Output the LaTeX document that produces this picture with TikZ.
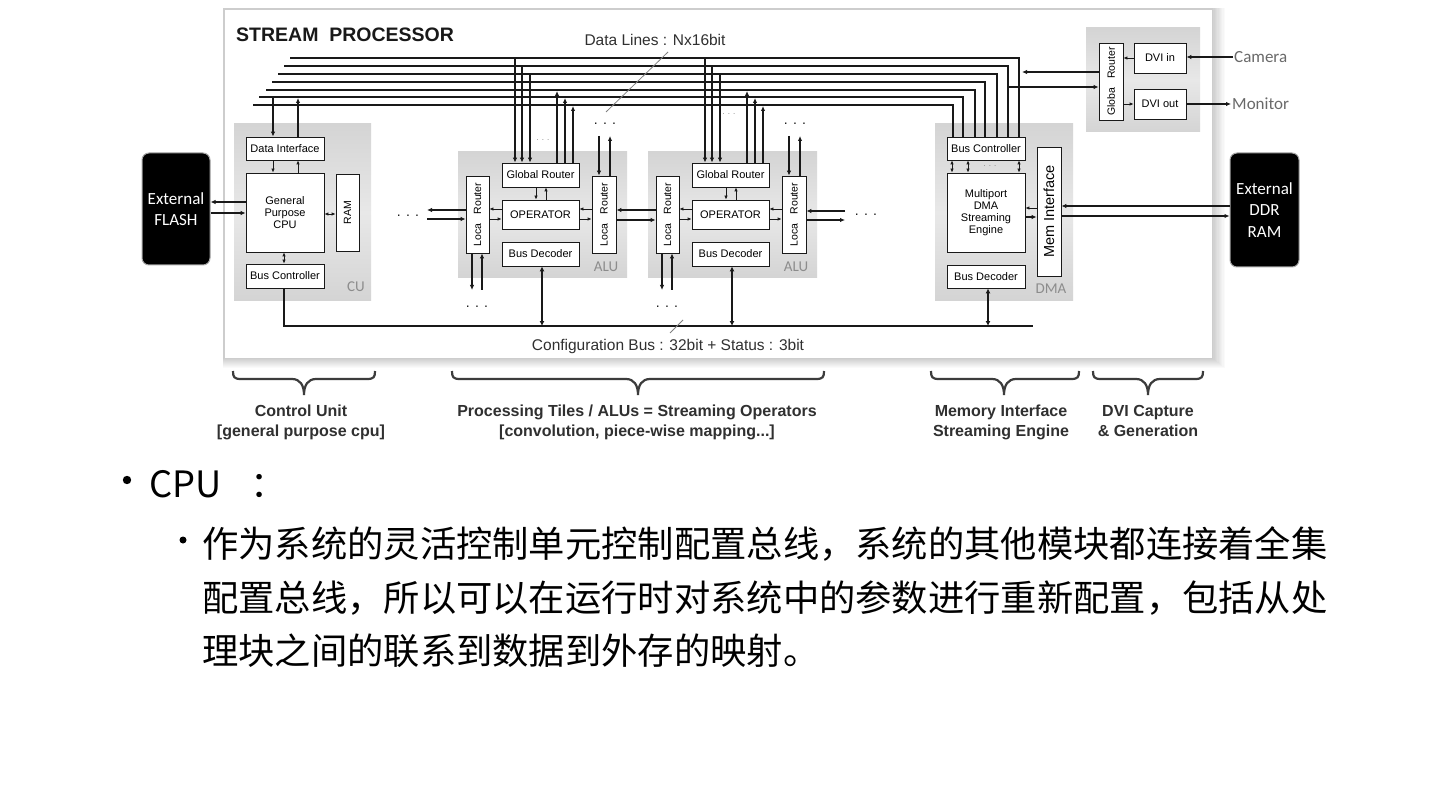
\documentclass[tikz,border=0pt]{standalone}
\usepackage{fontspec}
\setmainfont{Liberation Sans}
\newfontfamily\cjk{Noto Sans CJK SC}
\newfontfamily\carl{Carlito}
\usetikzlibrary{arrows.meta,calc}
\definecolor{panel}{RGB}{212,212,212}
\definecolor{panelmid}{RGB}{232,232,232}
\definecolor{ink}{RGB}{25,25,25}
\definecolor{tagc}{RGB}{140,140,140}
\definecolor{extc}{RGB}{105,105,105}
\newcommand\mybrace[3]{%
\draw[brc] (#1,371) .. controls (#1,377) and (#1+1,379) .. (#1+8,379) -- (#3-12,379) .. controls (#3-4,379) and (#3,385) .. (#3,395) .. controls (#3,385) and (#3+4,379) .. (#3+12,379) -- (#2-8,379) .. controls (#2-1,379) and (#2,377) .. (#2,371);}
\begin{document}
\begin{tikzpicture}[x=1pt,y=-1pt,
  box/.style={draw=ink, line width=0.8pt, fill=white, inner sep=0pt, font=\fontsize{11}{12}\selectfont, align=center},
  pnl/.style={draw=none, inner sep=0pt, top color=panel, bottom color=panel, middle color=panelmid},
  blk/.style={fill=black, draw=gray!70, line width=1pt, rounded corners=7pt, inner sep=0pt, text=white, font=\carl\fontsize{17}{21.5}\selectfont, align=center},
  rot/.style={rotate=90, font=\fontsize{10.5}{12}\selectfont, inner sep=0pt},
  tag/.style={font=\carl\fontsize{15}{17}\selectfont, text=tagc, inner sep=0pt},
  ext/.style={font=\carl\fontsize{17}{19}\selectfont, text=extc, inner sep=1pt},
  dots/.style={font=\fontsize{14}{14}\selectfont, inner sep=0pt, anchor=base, text=ink},
  tdots/.style={font=\fontsize{8}{8}\selectfont, inner sep=0pt, anchor=base, text=gray},
  dline/.style={line width=2.8pt, draw=ink},
  tarr/.style={line width=0.9pt, draw=ink, -{Latex[length=4pt,width=3.5pt]}},
  tdbl/.style={line width=0.9pt, draw=ink, {Latex[length=4pt,width=3.5pt]}-{Latex[length=4pt,width=3.5pt]}},
  marr/.style={line width=1.8pt, draw=ink, -{Latex[length=5pt,width=4.5pt]}},
  mdbl/.style={line width=2pt, draw=ink, {Latex[length=5pt,width=5pt]}-{Latex[length=5pt,width=5pt]}},
  brc/.style={line width=2.2pt, draw=ink!85},
  lab/.style={font=\fontsize{15.5}{17}\selectfont, inner sep=0pt, text=ink!90},
  bl/.style={font=\bfseries\fontsize{16}{18}\selectfont, inner sep=0pt, text=ink!90, anchor=base},
  zh/.style={font=\cjk\fontsize{36.3}{40}\selectfont, inner sep=0pt, anchor=base west}
]
\useasboundingbox (0,0) rectangle (1440,810);
\fill[white] (0,0) rectangle (1440,810);

% main panel with shadow
\foreach \k in {1,...,10} \fill[black, opacity=0.02] (223,8) rectangle ({1212+\k*1.3},{358+\k});
\fill[white] (225,10) rectangle (1212,358);

\node[anchor=west, inner sep=0pt, font=\bfseries\fontsize{19.5}{21}\selectfont, text=ink] (title) at (236,35) {STREAM\ \ PROCESSOR};

% external boxes
\node[blk, minimum width=68pt, minimum height=112pt] (flash) at (176,209) {External\\FLASH};
\node[blk, minimum width=69pt, minimum height=114pt] (ddr) at (1264.5,210) {External\\DDR\\RAM};

% CU
\node[pnl, minimum width=137pt, minimum height=177pt] (cu) at (302.5,212.5) {};
\node[box, minimum width=78pt, minimum height=23pt] (di) at (285,148.5) {Data Interface};
\node[box, minimum width=78pt, minimum height=79pt] (cpu) at (285,212.5) {General\\Purpose\\CPU};
\node[box, minimum width=23pt, minimum height=77pt] (ram) at (347.5,212.5) {};
\node[rot] (ramt) at (ram) {RAM};
\node[box, minimum width=78pt, minimum height=24pt] (cbc) at (285,276) {Bus Controller};
\node[tag] (cut) at (356,287) {CU};

% DMA
\node[pnl, minimum width=138pt, minimum height=177pt] (dma) at (1004,212.5) {};
\node[box, minimum width=78pt, minimum height=23pt] (dbc) at (986,148.5) {Bus Controller};
\node[box, minimum width=78pt, minimum height=79pt] (mp) at (986,212.5) {Multiport\\DMA\\Streaming\\Engine};
\node[box, minimum width=24pt, minimum height=129pt] (mi) at (1049,211.5) {};
\node[rot, font=\fontsize{14.5}{16}\selectfont] (mit) at (mi) {Mem Interface};
\node[box, minimum width=78pt, minimum height=23pt] (dbd) at (986,276.5) {Bus Decoder};
\node[tag] (dmat) at (1051,289) {DMA};

% DVI
\node[pnl, minimum width=114pt, minimum height=104pt] (dvi) at (1143,80) {};
\node[box, minimum width=24pt, minimum height=77pt] (grd) at (1111,81.5) {};
\node[rot] (grdt) at (grd) {Globa\hspace{9pt}Router};
\node[box, minimum width=52pt, minimum height=30pt] (dvin) at (1160,58) {DVI in};
\node[box, minimum width=52pt, minimum height=30pt] (dvout) at (1160,104) {DVI out};
\node[ext, anchor=west] (cam) at (1233,57) {Camera};
\node[ext, anchor=west] (mon) at (1231,104) {Monitor};

% data lines
\foreach \y/\xl/\xr in {58/290/1019, 66/284/1008, 74/278/997, 82/272/985, 90/266/975, 97/259/963, 105/253/953}
  \draw[dline] (\xl,\y) -- (\xr,\y) -- (\xr,0 |- dbc.north);

% ALUs
\foreach \i/\o in {1/0,2/190} {
\begin{scope}[xshift=\o pt]
\node[pnl, minimum width=169pt, minimum height=126pt] (alu\i) at (542.5,215) {};
\node[box, minimum width=23pt, minimum height=77pt] (lra\i) at (477.5,214.5) {};
\node[rot] at (lra\i) {Loca\hspace{9pt}Router};
\node[box, minimum width=77pt, minimum height=24pt] (gr\i) at (540.5,175) {Global Router};
\node[box, font=\fontsize{11}{12}\selectfont, minimum width=77pt, minimum height=29pt] (op\i) at (540.5,214.5) {OPERATOR};
\node[box, minimum width=77pt, minimum height=24pt] (bd\i) at (540.5,254) {Bus Decoder};
\node[box, minimum width=24pt, minimum height=77pt] (lrb\i) at (604,214.5) {};
\node[rot] at (lrb\i) {Loca\hspace{9pt}Router};
\node[tag] at (606,267) {ALU};
% global router to data lines
\draw[marr] (515,58) -- (515,0 |- gr\i.north);
\draw[marr] (522,66) -- (522,0 |- gr\i.north);
\draw[marr] (530,74) -- (530,0 |- gr\i.north);
\draw[marr] (557,0 |- gr\i.north) -- (557,91);
\draw[marr] (565,0 |- gr\i.north) -- (565,98);
\draw[marr] (573,0 |- gr\i.north) -- (573,106);
% internal
\draw[tarr] (536,0 |- gr\i.south) -- (536,0 |- op\i.north);
\draw[tarr] (546,0 |- op\i.north) -- (546,0 |- gr\i.south);
\draw[tarr] (op\i.west |- 0,209) -- (lra\i.east |- 0,209);
\draw[tarr] (lra\i.east |- 0,219) -- (op\i.west |- 0,219);
\draw[tarr] (lrb\i.west |- 0,209) -- (op\i.east |- 0,209);
\draw[tarr] (op\i.east |- 0,219) -- (lrb\i.west |- 0,219);
% local router up / down
\draw[marr] (599,136) -- (599,0 |- lrb\i.north);
\draw[marr] (610,0 |- lrb\i.north) -- (610,136);
\node[dots] at (605,125) {. . .};
\draw[marr] (472,0 |- lra\i.south) -- (472,290);
\draw[marr] (482,290) -- (482,0 |- lra\i.south);
\node[dots] at (477,308) {. . .};
% bus decoder
\draw[mdbl] (542,0 |- bd\i.south) -- (542,326);
\end{scope}
}
\node[tdots] at (543,141) {. . .};
\node[tdots] at (729,115) {. . .};

% between ALUs and sides
\draw[marr] (lra2.west |- 0,210) -- (lrb1.east |- 0,210);
\draw[marr] (lrb1.east |- 0,220) -- (lra2.west |- 0,220);
\draw[marr] (lra1.west |- 0,210) -- (427,210);
\draw[marr] (427,219) -- (lra1.west |- 0,219);
\draw[marr] (845,211) -- (lrb2.east |- 0,211);
\draw[marr] (lrb2.east |- 0,220) -- (845,220);
\node[dots] at (408,217) {. . .};
\node[dots] at (866,216) {. . .};

% CU connections
\draw[marr] (273,97) -- (273,0 |- di.north);
\draw[marr] (298,0 |- di.north) -- (298,98);
\draw[tarr] (273,0 |- di.south) -- (273,0 |- cpu.north);
\draw[tarr] (298,0 |- cpu.north) -- (298,0 |- di.south);
\draw[tdbl] (cpu.east |- 0,214) -- (ram.west |- 0,214);
\draw[tdbl] (284,0 |- cpu.south) -- (284,0 |- cbc.north);
\draw[marr] (cpu.west |- 0,202) -- (flash.east |- 0,202);
\draw[marr] (flash.east |- 0,213) -- (cpu.west |- 0,213);
\draw[dline] (284,0 |- cbc.south) -- (284,326) -- (1033,326);

% DMA connections
\foreach \x in {952,968,1019} \draw[tdbl] (\x,0 |- dbc.south) -- (\x,0 |- mp.north);
\node[tdots] at (990,167) {. . .};
\draw[tarr] (mi.west |- 0,208) -- (mp.east |- 0,208);
\draw[marr] (mp.east |- 0,217) -- (mi.west |- 0,217);
\draw[marr] (ddr.west |- 0,206) -- (mi.east |- 0,206);
\draw[marr] (mi.east |- 0,216) -- (ddr.west |- 0,216);
\draw[mdbl] (988,0 |- dbd.south) -- (988,326);

% DVI connections
\draw[tarr] (dvin.west) -- (grd.east |- dvin.west);
\draw[tarr] (grd.east |- dvout.west) -- (dvout.west);
\draw[marr] (cam.west) -- (dvin.east |- cam.west);
\draw[marr] (dvout.east) -- (mon.west |- dvout.east);
\draw[marr] (grd.west |- 0,72) -- (1022,72);
\draw[marr] (1008,87) -- (grd.west |- 0,87);

% labels
\node[lab] (dlt) at (655,40) {Data Lines : Nx16bit};
\draw[line width=0.8pt, gray] (606,112) -- (668,52);
\node[lab] (cbt) at (668,346) {Configuration Bus : 32bit + Status : 3bit};
\draw[line width=0.8pt, gray] (670,333) -- (683,320);

% braces
\mybrace{233}{375}{304}
\mybrace{452}{824}{638}
\mybrace{931}{1079}{1004}
\mybrace{1093}{1203}{1148}
\node[bl] at (301,416) {Control Unit};
\node[bl] at (301,436) {[general purpose cpu]};
\node[bl] at (637,416) {Processing Tiles / ALUs = Streaming Operators};
\node[bl] at (637,436) {[convolution, piece-wise mapping...]};
\node[bl] at (1001,416) {Memory Interface};
\node[bl] at (1001,436) {Streaming Engine};
\node[bl] at (1148,416) {DVI Capture};
\node[bl] at (1148,436) {\& Generation};

% bottom text
\fill[black] (127,480) circle (4.2);
\node[zh] (cpuh) at (149,497) {CPU\hspace{29pt}：};
\fill[black] (183,540) circle (3.5);
\node[zh] (l1) at (202,557) {作为系统的灵活控制单元控制配置总线，系统的其他模块都连接着全集};
\node[zh] (l2) at (202,611) {配置总线，所以可以在运行时对系统中的参数进行重新配置，包括从处};
\node[zh] (l3) at (202,664) {理块之间的联系到数据到外存的映射。};
\end{tikzpicture}
\end{document}
